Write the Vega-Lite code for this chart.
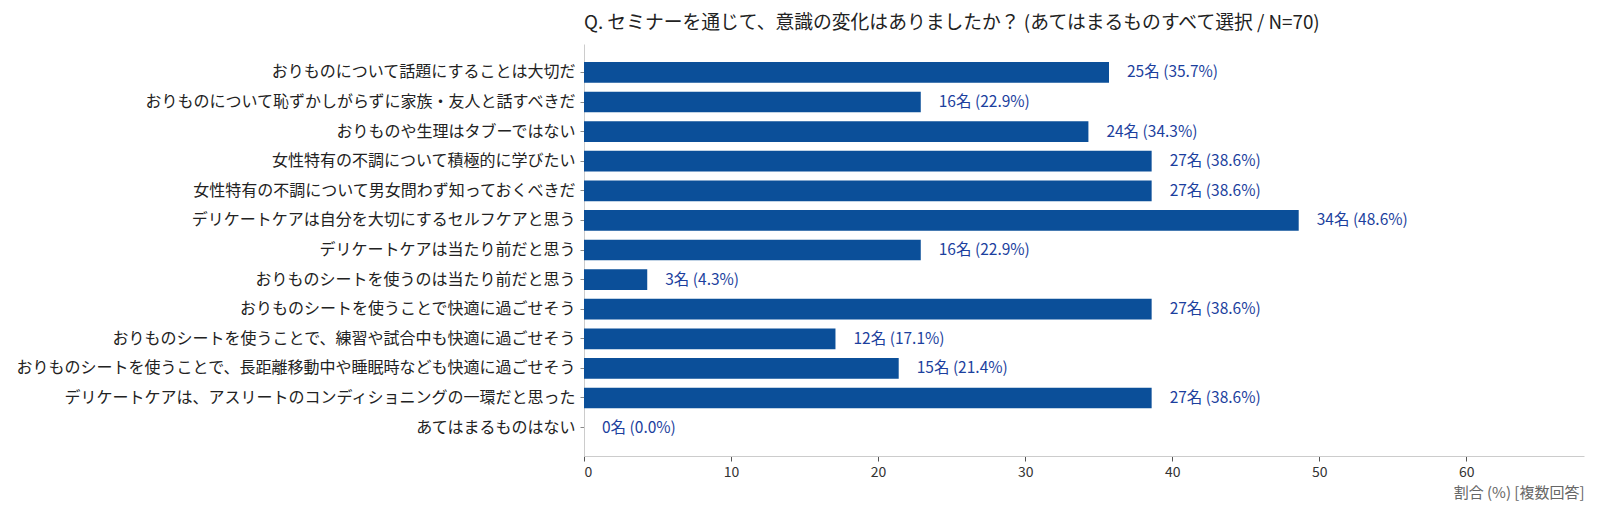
{
  "$schema": "https://vega.github.io/schema/vega-lite/v6.json",
  "autosize": "none",
  "width": 1000,
  "height": 412,
  "padding": {"left": 584, "top": 44, "right": 16, "bottom": 64},
  "background": "white",
  "title": {
    "text": "Q. セミナーを通じて、意識の変化はありましたか？ (あてはまるものすべて選択 / N=70)",
    "anchor": "start",
    "frame": "group",
    "fontSize": 18.8,
    "font": "Noto Sans CJK JP",
    "fontWeight": "normal",
    "color": "#222222",
    "offset": 11
  },
  "config": {
    "view": {"stroke": null},
    "font": "Noto Sans CJK JP"
  },
  "data": {
    "values": [
      {"item": "おりものについて話題にすることは大切だ", "count": 25, "pct": 35.7, "label": "25名 (35.7%)"},
      {"item": "おりものについて恥ずかしがらずに家族・友人と話すべきだ", "count": 16, "pct": 22.9, "label": "16名 (22.9%)"},
      {"item": "おりものや生理はタブーではない", "count": 24, "pct": 34.3, "label": "24名 (34.3%)"},
      {"item": "女性特有の不調について積極的に学びたい", "count": 27, "pct": 38.6, "label": "27名 (38.6%)"},
      {"item": "女性特有の不調について男女問わず知っておくべきだ", "count": 27, "pct": 38.6, "label": "27名 (38.6%)"},
      {"item": "デリケートケアは自分を大切にするセルフケアと思う", "count": 34, "pct": 48.6, "label": "34名 (48.6%)"},
      {"item": "デリケートケアは当たり前だと思う", "count": 16, "pct": 22.9, "label": "16名 (22.9%)"},
      {"item": "おりものシートを使うのは当たり前だと思う", "count": 3, "pct": 4.3, "label": "3名 (4.3%)"},
      {"item": "おりものシートを使うことで快適に過ごせそう", "count": 27, "pct": 38.6, "label": "27名 (38.6%)"},
      {"item": "おりものシートを使うことで、練習や試合中も快適に過ごせそう", "count": 12, "pct": 17.1, "label": "12名 (17.1%)"},
      {"item": "おりものシートを使うことで、長距離移動中や睡眠時なども快適に過ごせそう", "count": 15, "pct": 21.4, "label": "15名 (21.4%)"},
      {"item": "デリケートケアは、アスリートのコンディショニングの一環だと思った", "count": 27, "pct": 38.6, "label": "27名 (38.6%)"},
      {"item": "あてはまるものはない", "count": 0, "pct": 0.0, "label": "0名 (0.0%)"}
    ]
  },
  "encoding": {
    "y": {
      "field": "item",
      "type": "nominal",
      "sort": null,
      "scale": {"paddingInner": 0.3, "paddingOuter": 0.61},
      "axis": {
        "title": null,
        "labelFontSize": 16,
        "labelColor": "#222222",
        "labelPadding": 5,
        "labelLimit": 700,
        "tickSize": 4,
        "tickColor": "#888888",
        "domainColor": "#cccccc",
        "grid": false
      }
    },
    "x": {
      "field": "pct",
      "type": "quantitative",
      "scale": {"domain": [0, 68], "nice": false},
      "axis": {
        "title": "割合 (%) [複数回答]",
        "titleAnchor": "end",
        "titleFontSize": 15,
        "titleFontWeight": "normal",
        "titleColor": "#666666",
        "titlePadding": 6,
        "values": [0, 10, 20, 30, 40, 50, 60],
        "labelFontSize": 14,
        "labelColor": "#333333",
        "labelPadding": 4,
        "tickSize": 5,
        "tickColor": "#555555",
        "domainColor": "#cccccc",
        "grid": false
      }
    }
  },
  "layer": [
    {
      "mark": {"type": "bar", "color": "#0b4f99"}
    },
    {
      "mark": {"type": "text", "align": "left", "baseline": "middle", "dx": 18, "fontSize": 15.5, "color": "#1c3f9e"},
      "encoding": {"text": {"field": "label"}}
    }
  ]
}
